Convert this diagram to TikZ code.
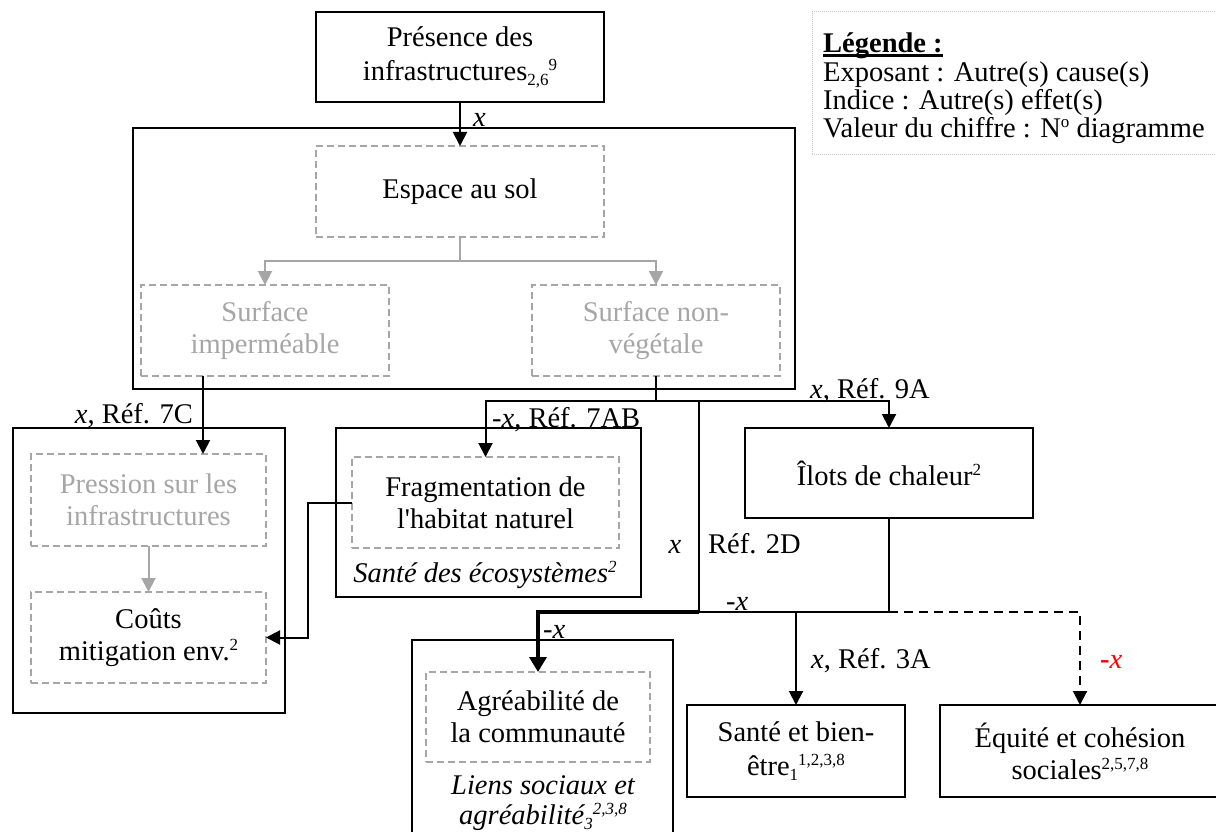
\documentclass[tikz,border=0pt]{standalone}
\usepackage{fontspec}
\setmainfont{Liberation Serif}
\usetikzlibrary{arrows.meta}
\definecolor{boxgray}{RGB}{166,166,166}
\definecolor{leggray}{RGB}{200,200,200}
% bold heading with a heavy underline
\newcommand\legendhead[1]{\setbox0\hbox{#1}\rlap{\rule[-4pt]{\wd0}{2.5pt}}\box0}
% small raised / lowered indices
\newcommand\upidx[1]{\raisebox{10pt}{\fontsize{17}{17}\selectfont #1}}
\newcommand\lowidx[1]{\raisebox{-5pt}{\fontsize{17}{17}\selectfont #1}}

\begin{document}
\begin{tikzpicture}[x=1pt,y=-1pt,
  every node/.style={font=\fontsize{28.5}{32}\selectfont},
  solidbox/.style={draw, line width=1.7pt, inner sep=0pt, outer sep=0pt, align=center},
  dashbox/.style={draw=boxgray, line width=1.5pt, dash pattern=on 7pt off 4pt, inner sep=0pt, outer sep=0pt, align=center},
  graytext/.style={text=boxgray},
  conn/.style={line width=2pt},
  arr/.style={conn, -{Triangle[length=14pt,width=14pt]}},
  garr/.style={draw=boxgray, line width=2pt, -{Triangle[length=14pt,width=14pt]}},
  heavyarr/.style={line width=3.5pt, -{Triangle[length=15pt,width=17pt]}},
  dasharr/.style={arr, dash pattern=on 9pt off 6pt},
  lbl/.style={inner sep=0pt},
  capt/.style={inner sep=0pt, align=center, font=\fontsize{28.5}{30}\selectfont\itshape},
]
\fill[white] (0,0) rectangle (1216,832);
\useasboundingbox (0,0) rectangle (1216,832);

% ---- top cause and ground-space group
\node[solidbox, minimum width=662pt, minimum height=261pt] (big) at (464,258.5) {};
\node[solidbox, minimum width=288pt, minimum height=90pt] (pres) at (460,57)
  {Présence des\\[2pt]infrastructures\lowidx{2,6}\upidx{9}};
\node[dashbox, minimum width=288pt, minimum height=91pt] (espace) at (460,191.5) {Espace au sol};
\node[dashbox, graytext, minimum width=248pt, minimum height=91pt] (surfimp) at (265,330.5) {Surface\\imperméable};
\node[dashbox, graytext, minimum width=248pt, minimum height=91pt] (surfnv) at (656,330.5) {Surface non-\\végétale};

% ---- left group
\node[solidbox, minimum width=272pt, minimum height=285pt] (leftbox) at (149,570.5) {};
\node[dashbox, graytext, minimum width=235pt, minimum height=92pt] (pression) at (148.5,500) {Pression sur les\\infrastructures};
\node[dashbox, minimum width=235pt, minimum height=91pt] (couts) at (148.5,637.5) {Coûts\\mitigation env.\upidx{2}};

% ---- habitat group
\node[solidbox, minimum width=305pt, minimum height=169pt] (fragbox) at (488.5,512.5) {};
\node[dashbox, minimum width=267pt, minimum height=91pt] (frag) at (485.5,502.5) {Fragmentation de\\l\textquotesingle habitat naturel};
\node[capt] (fragcap) at (485,575) {Santé des écosystèmes\upidx{2}};

% ---- heat islands
\node[solidbox, minimum width=288pt, minimum height=90pt] (ilots) at (889,473) {Îlots de chaleur\upidx{2}};

% ---- community group
\node[solidbox, minimum width=261pt, minimum height=210pt] (agrbox) at (542.5,745) {};
\node[dashbox, minimum width=224pt, minimum height=90pt] (agr) at (538,717) {Agréabilité de\\la communauté};
\node[capt] (agrcap) at (543,803) {Liens sociaux et\\agréabilité\lowidx{3}\upidx{2,3,8}};

% ---- bottom effects
\node[solidbox, minimum width=218pt, minimum height=92pt] (sante) at (796,751)
  {Santé et bien-\\[2pt]être\lowidx{1}\upidx{1,2,3,8}};
\node[solidbox, minimum width=280pt, minimum height=92pt] (equite) at (1080,751)
  {Équité et cohésion\\sociales\upidx{2,5,7,8}};

% ---- legend
\node[draw=leggray, line width=1pt, dash pattern=on 1pt off 1pt, inner sep=0pt,
      minimum width=424pt, minimum height=143pt] (legend) at (1024,83.5) {};
\node[lbl, anchor=base west] (leg0) at (823,53) {\legendhead{\textbf{Légende :}}};
\node[lbl, anchor=base west] (leg1) at (823,82) {Exposant : Autre(s) cause(s)};
\node[lbl, anchor=base west] (leg2) at (823,110) {Indice : Autre(s) effet(s)};
\node[lbl, anchor=base west] (leg3) at (823,138) {Valeur du chiffre : N\upidx{o} diagramme};

% ---- connectors
\draw[arr] (pres.south) -- (espace.north);
\node[lbl, anchor=base west] (lx0) at (473,127) {\textit{x}};

\coordinate (gj) at (460,261);
\draw[garr] (espace.south) -- (gj) -| (surfimp.north);
\draw[garr] (gj) -| (surfnv.north);
\draw[garr] (pression.south) -- (couts.north);

\draw[arr] ([xshift=-62pt]surfimp.south) -- ([xshift=-62pt]surfimp.south |- pression.north);
\node[lbl, anchor=base east] (l7c) at (193,423) {\textit{x}, Réf. 7C};

\coordinate (j1) at (656,401);
\coordinate (j2) at (699,401);
\coordinate (j3) at (699,612);
\coordinate (j4) at (889,612);
\draw[conn] (surfnv.south) -- (j1);
\draw[arr] (j1) -| (frag.north);
\draw[arr] (j1) -| (ilots.north);
\draw[conn] (j2) -- (j3);
\draw[conn] (ilots.south) -- (j4) -- (j3);
\draw[heavyarr] (j3) -| (agr.north);
\draw[arr] (sante.north |- j4) -- (sante.north);
\draw[dasharr] (j4) -| (equite.north);
\draw[arr] (frag.west) -- ++(-44,0) |- (couts.east);

\node[lbl, anchor=base west] (l7ab) at (492,427) {-\textit{x}, Réf. 7AB};
\node[lbl, anchor=base west] (l9a) at (810,398) {\textit{x}, Réf. 9A};
\node[lbl, anchor=base] (l2dx) at (675,553) {\textit{x}};
\node[lbl, anchor=base west] (l2d) at (708,553) {Réf. 2D};
\node[lbl, anchor=base west] (lneg1) at (726,610) {-\textit{x}};
\node[lbl, anchor=base west] (lneg2) at (543,638) {-\textit{x}};
\node[lbl, anchor=base west] (l3a) at (811,668) {\textit{x}, Réf. 3A};
\node[lbl, anchor=base west] (lred) at (1100,668) {\textcolor{red}{\textbf{-}\textit{x}}};
\end{tikzpicture}
\end{document}
